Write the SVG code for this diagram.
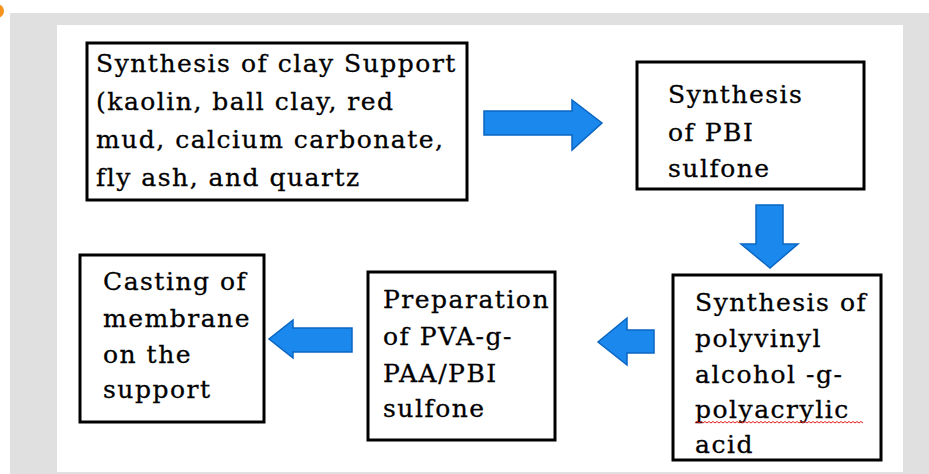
<svg xmlns="http://www.w3.org/2000/svg" width="929" height="474" viewBox="0 0 929 474">
<defs>
<style>
.box{fill:#ffffff;stroke:#000000;stroke-width:3}
.t{font-family:"DejaVu Serif","Liberation Serif",serif;font-size:25px;letter-spacing:1.5px;fill:#000000;stroke:#000000;stroke-width:0.3}
.arr{fill:#1a88ec;stroke:#0a66c2;stroke-width:1.5;stroke-linejoin:miter}
</style>
</defs>
<rect x="0" y="0" width="929" height="474" fill="#ffffff"/>
<rect x="10" y="13" width="919" height="461" fill="#e0e0e0"/>
<rect x="57" y="25" width="846" height="447" fill="#ffffff"/>
<circle cx="-3" cy="11" r="7" fill="#f7941d"/>

<g id="n1">
<rect class="box" x="87" y="43" width="380" height="157"/>
<text class="t" x="96" y="72">Synthesis of clay Support</text>
<text class="t" x="96" y="110">(kaolin, ball clay, red</text>
<text class="t" x="96" y="148">mud, calcium carbonate,</text>
<text class="t" x="96" y="186">fly ash, and quartz</text>
</g>
<g id="n2">
<rect class="box" x="637" y="62" width="227" height="127"/>
<text class="t" x="668" y="103">Synthesis</text>
<text class="t" x="668" y="141">of PBI</text>
<text class="t" x="668" y="177">sulfone</text>
</g>
<g id="n3">
<rect class="box" x="673" y="275" width="208" height="185"/>
<text class="t" x="695" y="311">Synthesis of</text>
<text class="t" x="695" y="347">polyvinyl</text>
<text class="t" x="695" y="383">alcohol -g-</text>
<text class="t" x="695" y="418">polyacrylic</text>
<text class="t" x="695" y="453">acid</text>
<path d="M695,423 l2,-1.5 l2,1.5 l2,-1.5 l2,1.5 l2,-1.5 l2,1.5 l2,-1.5 l2,1.5 l2,-1.5 l2,1.5 l2,-1.5 l2,1.5 l2,-1.5 l2,1.5 l2,-1.5 l2,1.5 l2,-1.5 l2,1.5 l2,-1.5 l2,1.5 l2,-1.5 l2,1.5 l2,-1.5 l2,1.5 l2,-1.5 l2,1.5 l2,-1.5 l2,1.5 l2,-1.5 l2,1.5 l2,-1.5 l2,1.5 l2,-1.5 l2,1.5 l2,-1.5 l2,1.5 l2,-1.5 l2,1.5 l2,-1.5 l2,1.5 l2,-1.5 l2,1.5 l2,-1.5 l2,1.5 l2,-1.5 l2,1.5 l2,-1.5 l2,1.5 l2,-1.5 l2,1.5 l2,-1.5 l2,1.5 l2,-1.5 l2,1.5 l2,-1.5 l2,1.5 l2,-1.5 l2,1.5 l2,-1.5 l2,1.5 l2,-1.5 l2,1.5 l2,-1.5 l2,1.5 l2,-1.5 l2,1.5 l2,-1.5 l2,1.5 l2,-1.5 l2,1.5 l2,-1.5 l2,1.5 l2,-1.5 l2,1.5 l2,-1.5 l2,1.5 l2,-1.5 l2,1.5 l2,-1.5 l2,1.5 l2,-1.5 l2,1.5 l2,-1.5 l2,1.5" fill="none" stroke="#e02020" stroke-width="1"/>
</g>
<g id="n4">
<rect class="box" x="368" y="272" width="187" height="168"/>
<text class="t" x="383" y="308">Preparation</text>
<text class="t" x="383" y="345">of PVA-g-</text>
<text class="t" x="383" y="382">PAA/PBI</text>
<text class="t" x="383" y="417">sulfone</text>
</g>
<g id="n5">
<rect class="box" x="80" y="255" width="184" height="167"/>
<text class="t" x="103" y="290">Casting of</text>
<text class="t" x="103" y="327">membrane</text>
<text class="t" x="103" y="363">on the</text>
<text class="t" x="103" y="398">support</text>
</g>

<g id="connectors">
<path class="arr" d="M484,111 L572,111 L572,100 L602,123 L572,150 L572,135 L484,135 Z"/>
<path class="arr" d="M756,205 L783,205 L783,244 L798,244 L770,268 L741,244 L756,244 Z"/>
<path class="arr" d="M654,330 L627,330 L627,318 L598,342 L627,365 L627,353 L654,353 Z"/>
<path class="arr" d="M352,328 L293,328 L293,320 L269,339 L293,358 L293,352 L352,352 Z"/>
</g>
</svg>
